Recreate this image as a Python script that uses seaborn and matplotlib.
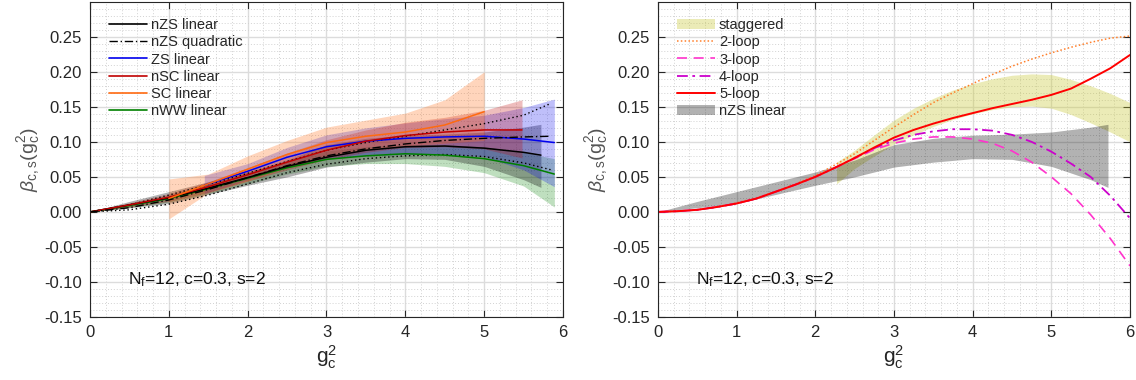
import numpy as np
import pandas as pd
import seaborn as sns
import matplotlib.pyplot as plt
from matplotlib.lines import Line2D
from matplotlib.patches import Patch
from matplotlib.ticker import MultipleLocator, FormatStrFormatter

# ---- left panel: fits with error bands (x, central, lower, upper) ----
nzs_x = [0, 0.5, 1, 1.5, 2, 2.5, 3, 3.5, 4, 4.5, 5, 5.5, 5.72]
nzs_mid = [0, 0.010, 0.020, 0.034, 0.049, 0.065, 0.078, 0.088, 0.093, 0.094, 0.091, 0.085, 0.081]
nzs_lo = [0, 0.006, 0.012, 0.025, 0.038, 0.050, 0.064, 0.071, 0.076, 0.075, 0.065, 0.046, 0.035]
nzs_hi = [0, 0.015, 0.029, 0.043, 0.057, 0.074, 0.096, 0.105, 0.1095, 0.111, 0.114, 0.121, 0.125]

nzsq_x = [0, 0.5, 1, 1.5, 2, 2.5, 3, 3.5, 4, 4.5, 5, 5.5, 5.85]
nzsq_mid = [0, 0.006, 0.017, 0.032, 0.049, 0.066, 0.080, 0.090, 0.097, 0.102, 0.105, 0.107, 0.108]
nzsq_lo = [0, 0.003, 0.011, 0.024, 0.040, 0.056, 0.068, 0.076, 0.080, 0.082, 0.079, 0.070, 0.060]
nzsq_hi = [0, 0.010, 0.024, 0.039, 0.055, 0.072, 0.088, 0.099, 0.108, 0.117, 0.126, 0.138, 0.155]

zs_x = [1.45, 2, 2.5, 3, 3.5, 4, 4.5, 5, 5.5, 5.89]
zs_mid = [0.038, 0.058, 0.078, 0.093, 0.101, 0.105, 0.107, 0.108, 0.104, 0.099]
zs_lo = [0.026, 0.046, 0.063, 0.076, 0.080, 0.082, 0.082, 0.079, 0.060, 0.036]
zs_hi = [0.052, 0.069, 0.092, 0.110, 0.120, 0.127, 0.133, 0.138, 0.149, 0.161]

nsc_x = [0, 0.5, 1, 1.5, 2, 2.5, 3, 3.5, 4, 4.5, 5, 5.48]
nsc_mid = [0, 0.010, 0.021, 0.036, 0.053, 0.071, 0.088, 0.101, 0.109, 0.114, 0.117, 0.117]
nsc_lo = [0, 0.007, 0.015, 0.028, 0.044, 0.060, 0.075, 0.085, 0.092, 0.093, 0.090, 0.077]
nsc_hi = [0, 0.013, 0.026, 0.043, 0.063, 0.084, 0.103, 0.117, 0.128, 0.135, 0.145, 0.160]

sc_x = [1, 1.5, 2, 2.5, 3, 3.5, 4, 4.5, 5]
sc_mid = [0.019, 0.040, 0.061, 0.082, 0.099, 0.108, 0.114, 0.124, 0.143]
sc_lo = [-0.010, 0.027, 0.044, 0.063, 0.078, 0.088, 0.094, 0.098, 0.102]
sc_hi = [0.047, 0.054, 0.080, 0.102, 0.121, 0.131, 0.141, 0.160, 0.200]

nww_x = [0, 0.5, 1, 1.5, 2, 2.5, 3, 3.5, 4, 4.5, 5, 5.5, 5.89]
nww_mid = [0, 0.009, 0.019, 0.033, 0.048, 0.063, 0.075, 0.080, 0.083, 0.081, 0.076, 0.066, 0.054]
nww_lo = [0, 0.006, 0.014, 0.026, 0.040, 0.054, 0.065, 0.069, 0.069, 0.065, 0.056, 0.037, 0.007]
nww_hi = [0, 0.012, 0.024, 0.040, 0.056, 0.073, 0.087, 0.093, 0.096, 0.096, 0.093, 0.085, 0.076]

# ---- right panel: perturbative curves and staggered band ----
loop_x = [0, 0.25, 0.5, 0.75, 1, 1.25, 1.5, 1.75, 2, 2.25, 2.5, 2.75, 3,
          3.25, 3.5, 3.75, 4, 4.25, 4.5, 4.75, 5, 5.25, 5.5, 5.75, 6]
loop2 = [0, 0.001, 0.003, 0.007, 0.013, 0.020, 0.029, 0.040, 0.052, 0.067, 0.083, 0.102, 0.121,
         0.139, 0.156, 0.170, 0.183, 0.196, 0.208, 0.218, 0.227, 0.235, 0.242, 0.248, 0.251]
loop3 = [0, 0.001, 0.003, 0.007, 0.012, 0.019, 0.029, 0.039, 0.050, 0.063, 0.076, 0.089, 0.098,
         0.104, 0.107, 0.107, 0.104, 0.098, 0.087, 0.071, 0.050, 0.026, -0.004, -0.038, -0.077]
loop4 = [0, 0.001, 0.003, 0.007, 0.012, 0.019, 0.029, 0.039, 0.050, 0.063, 0.077, 0.091, 0.102,
         0.110, 0.115, 0.118, 0.118, 0.116, 0.110, 0.100, 0.086, 0.069, 0.050, 0.023, -0.009]
loop5 = [0, 0.001, 0.003, 0.007, 0.012, 0.019, 0.029, 0.039, 0.050, 0.063, 0.077, 0.092, 0.106,
         0.117, 0.126, 0.134, 0.141, 0.148, 0.154, 0.160, 0.167, 0.176, 0.190, 0.205, 0.224]

stag_x = [2.27, 2.5, 2.75, 3, 3.25, 3.5, 3.75, 4, 4.25, 4.5, 4.75, 5, 5.25, 5.5, 5.75, 6]
stag_lo = [0.040, 0.062, 0.080, 0.097, 0.110, 0.122, 0.132, 0.140, 0.146, 0.150, 0.151, 0.148,
           0.139, 0.127, 0.114, 0.100]
stag_hi = [0.071, 0.088, 0.110, 0.131, 0.148, 0.162, 0.174, 0.183, 0.190, 0.195, 0.197, 0.196,
           0.189, 0.180, 0.169, 0.156]

yticks = [-0.15, -0.10, -0.05, 0.00, 0.05, 0.10, 0.15, 0.20, 0.25]
xticks = [0, 1, 2, 3, 4, 5, 6]

sns.set_theme(style="ticks")
plt.rcParams['font.family'] = ['Liberation Sans', 'DejaVu Sans']
plt.rcParams['mathtext.fontset'] = 'custom'
plt.rcParams['mathtext.rm'] = 'Liberation Sans'
plt.rcParams['mathtext.it'] = 'Liberation Sans:italic'
plt.rcParams['axes.unicode_minus'] = False

txt = '#262626'
fig = plt.figure(figsize=(11.36, 3.8), dpi=100)
ax1 = fig.add_axes([0.0792, 0.1658, 0.4164, 0.8297])
ax2 = fig.add_axes([0.5792, 0.1658, 0.4155, 0.8297])


def style_axes(ax):
    ax.set_xlim(0, 6)
    ax.set_ylim(-0.15, 0.30)
    ax.set_xticks(xticks)
    ax.set_yticks(yticks)
    ax.yaxis.set_major_formatter(FormatStrFormatter('%.2f'))
    ax.xaxis.set_minor_locator(MultipleLocator(0.2))
    ax.yaxis.set_minor_locator(MultipleLocator(0.01))
    ax.grid(which='major', color='#dcdcdc', lw=1.0, ls='-')
    ax.grid(which='minor', color='#d2d2d2', lw=0.7, ls=(0, (1, 2)))
    ax.set_axisbelow(True)
    ax.tick_params(which='major', direction='in', length=5, width=0.8,
                   top=True, right=True, labelsize=12, colors=txt, pad=6)
    ax.tick_params(which='minor', length=0)
    for s in ax.spines.values():
        s.set_color('#262626')
        s.set_linewidth(0.8)
    ax.set_xlabel(r'$\mathrm{g}_\mathrm{c}^2$', fontsize=15, color=txt, labelpad=2)
    ax.set_ylabel(r'$\beta_{\mathrm{c,s}}(\mathrm{g}_\mathrm{c}^2)$', fontsize=14,
                  color='#555555', labelpad=1)
    ax.text(0.48, -0.097, r'N$_\mathrm{f}$=12, c=0.3, s=2', fontsize=12.5,
            color='#111111', va='center')


def line(ax, x, y, color, ls='-', lw=1.2):
    df = pd.DataFrame({'x': x, 'y': y})
    sns.lineplot(data=df, x='x', y='y', ax=ax, color=color, linestyle=ls, lw=lw,
                 estimator=None, sort=False, legend=False)


# left panel
bands = [
    (nww_x, nww_lo, nww_hi, nww_mid, '#008000', 0.25),
    (nzs_x, nzs_lo, nzs_hi, nzs_mid, '#000000', 0.3),
    (zs_x, zs_lo, zs_hi, zs_mid, '#0000ee', 0.25),
    (nsc_x, nsc_lo, nsc_hi, nsc_mid, '#c00000', 0.26),
    (sc_x, sc_lo, sc_hi, sc_mid, '#ff6a10', 0.28),
]
for x, lo, hi, mid, c, a in bands:
    ax1.fill_between(x, lo, hi, color=c, alpha=a, lw=0)
line(ax1, nzsq_x, nzsq_lo, 'black', ls=(0, (1, 2)), lw=1.0)
line(ax1, nzsq_x, nzsq_hi, 'black', ls=(0, (1, 2)), lw=1.0)
for x, lo, hi, mid, c, a in bands:
    line(ax1, x, mid, c, lw=1.1)
line(ax1, nzsq_x, nzsq_mid, 'black', ls=(0, (6, 2, 1, 2)), lw=1.0)

h1 = [Line2D([], [], color='black', lw=1.2),
      Line2D([], [], color='black', lw=1.0, ls=(0, (6, 2, 1, 2))),
      Line2D([], [], color='#0000ee', lw=1.2),
      Line2D([], [], color='#c00000', lw=1.2),
      Line2D([], [], color='#ff6a10', lw=1.2),
      Line2D([], [], color='#008000', lw=1.2)]
l1 = ['nZS linear', 'nZS quadratic', 'ZS linear', 'nSC linear', 'SC linear', 'nWW linear']
ax1.legend(h1, l1, loc='upper left', frameon=False, fontsize=10.5, handlelength=2.6,
           handletextpad=0.3, labelspacing=0.22, borderaxespad=0.4,
           bbox_to_anchor=(0.015, 0.985))

# right panel
ax2.fill_between(stag_x, stag_lo, stag_hi, color='#c8c832', alpha=0.35, lw=0)
ax2.fill_between(nzs_x, nzs_lo, nzs_hi, color='black', alpha=0.3, lw=0)
line(ax2, loop_x, loop2, '#ff7f2a', ls=(0, (1, 1.5)), lw=1.1)
line(ax2, loop_x, loop3, '#ff33cc', ls=(0, (6, 4)), lw=1.2)
line(ax2, loop_x, loop4, '#cc00cc', ls=(0, (6, 2.5, 1.5, 2.5)), lw=1.3)
line(ax2, loop_x, loop5, '#ff0000', lw=1.4)

h2 = [Patch(facecolor='#c8c832', alpha=0.35, edgecolor='none'),
      Line2D([], [], color='#ff7f2a', lw=1.1, ls=(0, (1, 1.5))),
      Line2D([], [], color='#ff33cc', lw=1.2, ls=(0, (6, 4))),
      Line2D([], [], color='#cc00cc', lw=1.3, ls=(0, (6, 2.5, 1.5, 2.5))),
      Line2D([], [], color='#ff0000', lw=1.4),
      Patch(facecolor='black', alpha=0.3, edgecolor='none')]
l2 = ['staggered', '2-loop', '3-loop', '4-loop', '5-loop', 'nZS linear']
ax2.legend(h2, l2, loc='upper left', frameon=False, fontsize=10.5, handlelength=2.6,
           handletextpad=0.3, labelspacing=0.22, borderaxespad=0.4,
           bbox_to_anchor=(0.015, 0.985))

style_axes(ax1)
style_axes(ax2)

fig.savefig('out.png', dpi=100)
